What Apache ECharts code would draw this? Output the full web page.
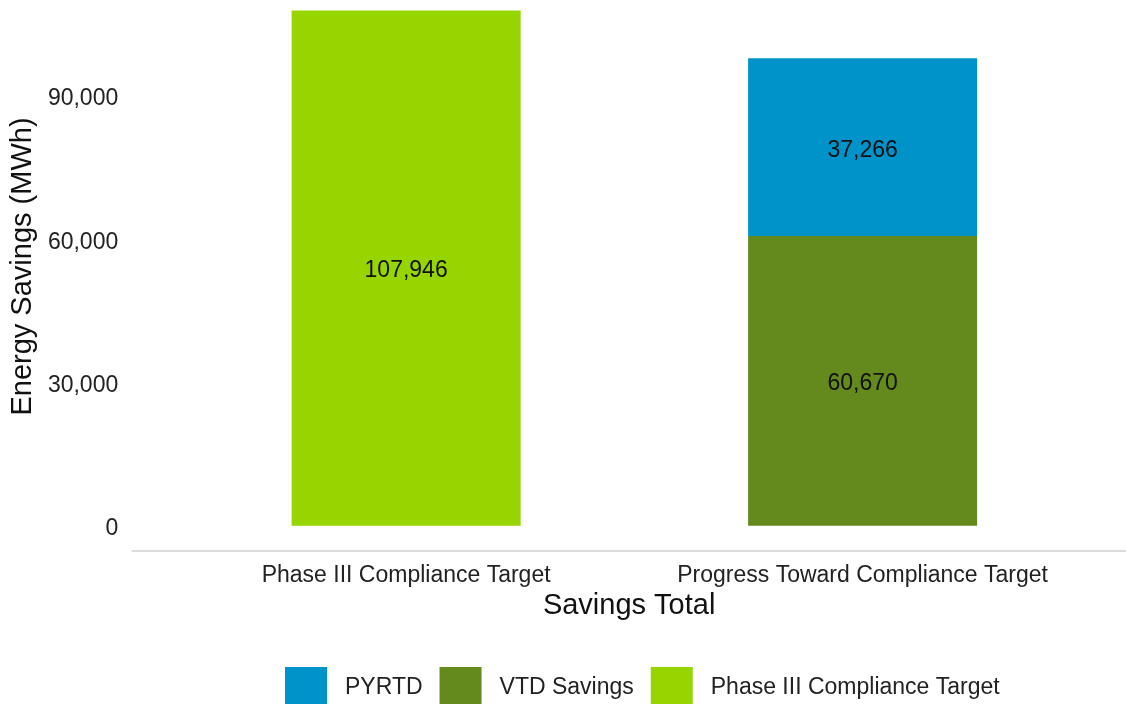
<!DOCTYPE html>
<html>
<head>
<meta charset="utf-8">
<script src="https://cdn.jsdelivr.net/npm/echarts@6/dist/echarts.min.js"></script>
<style>
  html, body { margin: 0; padding: 0; background: #fff; }
  #chart { width: 1126px; height: 704px; }
</style>
</head>
<body>
<div id="chart"></div>
<script>
// categories along the x axis (placed at positions 1 and 2)
var categories = ['Phase III Compliance Target', 'Progress Toward Compliance Target'];
var targetValues = [107946, 0];   // Phase III Compliance Target
var vtdValues = [0, 60670];       // VTD Savings
var pyrtdValues = [0, 37266];     // PYRTD
var yTicks = [0, 30000, 60000, 90000];

var chart = echarts.init(document.getElementById('chart'));

// value first so ECharts stacks the value dimension, position second
function toPairs(vals) {
    return vals.map(function (v, i) { return [v, i + 1]; });
}

function fmt(n) {
    return Number(n).toLocaleString('en-US');
}

var font = 'Liberation Sans, Arial, Helvetica, sans-serif';

var barLabel = {
    show: true,
    position: 'inside',
    offset: [0, 3],
    color: '#111',
    fontSize: 23,
    fontFamily: font,
    formatter: function (p) { return p.value[0] ? fmt(p.value[0]) : ''; }
};

function barSeries(name, color, vals) {
    return {
        name: name,
        type: 'bar',
        stack: 'total',
        barWidth: 229,
        encode: { x: 1, y: 0 },
        itemStyle: { color: color },
        label: barLabel,
        data: toPairs(vals)
    };
}

var option = {
    animation: false,
    backgroundColor: '#fff',
    textStyle: { fontFamily: font },
    grid: { left: 131, right: 0, top: 0, bottom: 153 },
    legend: {
        data: ['PYRTD', 'VTD Savings', 'Phase III Compliance Target'],
        left: 285,
        top: 667,
        padding: 0,
        icon: 'rect',
        itemWidth: 42,
        itemHeight: 42,
        itemGap: 17,
        textStyle: { fontSize: 23, color: '#222', fontFamily: font, padding: [0, 0, 0, 13] }
    },
    xAxis: {
        type: 'value',
        min: 0.4,
        max: 2.577,
        name: 'Savings Total',
        nameLocation: 'middle',
        nameGap: 40,
        nameTextStyle: { fontSize: 29, color: '#111', fontFamily: font },
        axisLine: { show: true, onZero: false, lineStyle: { color: '#dcdcdc', width: 2 } },
        axisTick: { show: false },
        splitLine: { show: false },
        axisLabel: {
            customValues: [1, 2],
            margin: 13,
            fontSize: 23,
            color: '#222',
            fontFamily: font,
            formatter: function (v) { return categories[Math.round(v) - 1] || ''; }
        }
    },
    yAxis: {
        type: 'value',
        min: -5300,
        max: 110140,
        name: 'Energy Savings (MWh)',
        nameLocation: 'middle',
        nameGap: 89,
        nameTextStyle: { fontSize: 29, color: '#111', fontFamily: font, padding: [0, 0, 0, 18] },
        axisLine: { show: false },
        axisTick: { show: false },
        splitLine: { show: false },
        axisLabel: {
            customValues: yTicks,
            margin: 14,
            fontSize: 23,
            color: '#222',
            fontFamily: font,
            formatter: function (v) { return '{t|' + fmt(v) + '}'; },
            rich: {
                t: { fontSize: 23, color: '#222', fontFamily: font, padding: [6, 0, 0, 0] }
            }
        }
    },
    series: [
        barSeries('Phase III Compliance Target', '#96d500', targetValues),
        barSeries('VTD Savings', '#64891c', vtdValues),
        barSeries('PYRTD', '#0093c9', pyrtdValues)
    ]
};

chart.setOption(option);
</script>
</body>
</html>
